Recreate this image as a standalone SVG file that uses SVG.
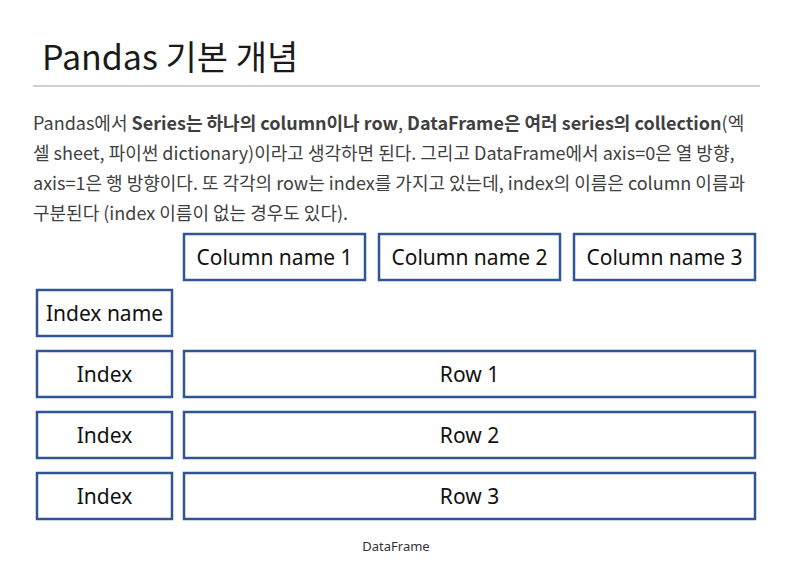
<svg xmlns="http://www.w3.org/2000/svg" width="791" height="577" viewBox="0 0 791 577">
<style>
.box{fill:#fff;stroke:#2F5597;stroke-width:2.5}
.lbl{font-family:"Noto Sans","Noto Sans CJK KR",sans-serif;font-size:21px;fill:#111;text-anchor:middle;dominant-baseline:central}
.p{font-family:"Noto Sans CJK KR","Noto Sans",sans-serif;font-size:18px;fill:#404040}
.b{font-weight:bold}
</style>
<rect width="791" height="577" fill="#fff"/>
<text x="42" y="70" font-family="Noto Sans CJK KR, Noto Sans, sans-serif" font-size="34" fill="#1a1a1a">Pandas 기본 개념</text>
<line x1="33" y1="86" x2="760" y2="86" stroke="#d0d0d0" stroke-width="2"/>
<text class="p" x="33" y="130">Pandas에서 <tspan class="b">Series는 하나의 column이나 row</tspan>, <tspan class="b">DataFrame은 여러 series의 collection</tspan>(엑</text>
<text class="p" x="33" y="160">셀 sheet, 파이썬 dictionary)이라고 생각하면 된다. 그리고 DataFrame에서 axis=0은 열 방향,</text>
<text class="p" x="33" y="190">axis=1은 행 방향이다. 또 각각의 row는 index를 가지고 있는데, index의 이름은 column 이름과</text>
<text class="p" x="33" y="220">구분된다 (index 이름이 없는 경우도 있다).</text>
<g id="col1"><rect class="box" x="184" y="234" width="181" height="46"/><text class="lbl" x="274.5" y="257">Column name 1</text></g>
<g id="col2"><rect class="box" x="379" y="234" width="181" height="46"/><text class="lbl" x="469.5" y="257">Column name 2</text></g>
<g id="col3"><rect class="box" x="574" y="234" width="181" height="46"/><text class="lbl" x="664.5" y="257">Column name 3</text></g>
<g id="indexname"><rect class="box" x="37" y="290" width="135" height="46"/><text class="lbl" x="104.5" y="313">Index name</text></g>
<g id="index1"><rect class="box" x="37" y="351" width="135" height="46"/><text class="lbl" x="104.5" y="374">Index</text></g>
<g id="row1"><rect class="box" x="184" y="351" width="571" height="46"/><text class="lbl" x="469.5" y="374">Row 1</text></g>
<g id="index2"><rect class="box" x="37" y="412" width="135" height="46"/><text class="lbl" x="104.5" y="435">Index</text></g>
<g id="row2"><rect class="box" x="184" y="412" width="571" height="46"/><text class="lbl" x="469.5" y="435">Row 2</text></g>
<g id="index3"><rect class="box" x="37" y="473" width="135" height="46"/><text class="lbl" x="104.5" y="496">Index</text></g>
<g id="row3"><rect class="box" x="184" y="473" width="571" height="46"/><text class="lbl" x="469.5" y="496">Row 3</text></g>
<g id="connectors"></g>
<text x="396" y="551" font-family="Noto Sans, sans-serif" font-size="13" fill="#333" text-anchor="middle">DataFrame</text>
</svg>
